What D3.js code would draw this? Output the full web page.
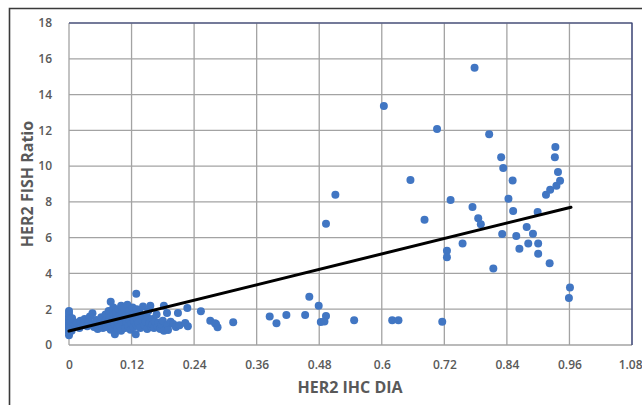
<!DOCTYPE html>
<html>
<head>
<meta charset="utf-8">
<script src="https://cdn.jsdelivr.net/npm/d3@7"></script>
<style>
  html, body { margin: 0; padding: 0; background: #fff; }
  svg { display: block; }
</style>
</head>
<body>
<svg id="chart" width="642" height="405"></svg>
<script>
// --- Data ---
const xTicks = [0, 0.12, 0.24, 0.36, 0.48, 0.6, 0.72, 0.84, 0.96, 1.08];
const yTicks = [0, 2, 4, 6, 8, 10, 12, 14, 16, 18];

// dense low cluster (IHC DIA, FISH ratio)
const lowCluster = [
  [0,0.55],[0,0.7],[0,0.85],[0,0.95],[0,1.05],[0,1.15],[0,1.25],[0,1.35],[0,1.45],[0,1.6],[0,1.75],[0,1.9],
  [0.003,1.0],[0.004,1.3],[0.005,0.8],[0.006,1.5],
  [0.012,1.1],[0.015,1.25],[0.02,0.95],[0.022,1.35],[0.028,1.15],[0.03,1.45],[0.035,1.05],[0.038,1.3],[0.04,1.6],
  [0.045,1.77],[0.048,1.0],[0.05,1.2],[0.052,1.4],[0.055,0.9],[0.058,1.1],[0.06,1.3],[0.062,1.55],[0.065,0.95],
  [0.068,1.15],[0.07,1.7],[0.07,1.35],
  [0.072,1.0],[0.075,1.2],[0.076,1.9],[0.078,1.5],[0.08,2.42],[0.08,0.85],[0.082,1.05],[0.083,1.3],[0.085,1.7],
  [0.085,2.1],[0.088,0.6],[0.088,1.15],[0.09,1.45],[0.09,1.85],[0.092,0.95],[0.094,1.25],[0.095,2.0],[0.096,1.6],
  [0.098,1.05],[0.1,1.4],[0.1,2.2],[0.1,0.8],
  [0.102,1.8],[0.104,1.15],[0.105,1.55],[0.106,2.05],[0.108,0.95],[0.11,1.3],[0.11,1.7],[0.112,2.25],[0.114,1.05],
  [0.115,1.45],[0.116,1.9],[0.118,0.85],[0.12,1.2],[0.12,1.6],[0.122,2.1],[0.124,1.0],[0.125,1.35],[0.126,1.75],
  [0.128,0.6],[0.129,2.87],[0.13,1.1],[0.13,1.5],[0.13,2.0],
  [0.133,1.25],[0.135,1.85],[0.137,0.95],[0.14,1.4],[0.14,1.65],[0.142,2.15],[0.145,1.1],[0.147,1.3],[0.15,1.55],
  [0.15,0.9],[0.152,1.9],[0.156,2.2],[0.155,1.2],[0.158,1.0],[0.16,1.45],[0.16,1.15],
  [0.163,0.95],[0.165,1.3],[0.168,1.7],[0.17,1.05],[0.172,1.25],[0.175,0.9],[0.178,1.15],[0.18,1.35],[0.182,2.2],
  [0.182,0.8],[0.188,1.79],[0.189,1.13],[0.19,0.84],[0.195,1.3],[0.2,1.17],[0.205,1.0],[0.209,1.79],[0.212,1.1],
  [0.223,1.23],[0.227,2.07],[0.228,1.05],[0.253,1.88],[0.271,1.36],[0.28,1.21],[0.282,1.17],[0.285,0.99],[0.315,1.27]
];

// sparser points at higher IHC DIA
const spread = [
  [0.385,1.6],[0.398,1.21],[0.417,1.68],[0.453,1.68],[0.461,2.7],[0.479,2.2],[0.493,1.62],[0.483,1.29],[0.49,1.32],
  [0.493,6.78],[0.511,8.4],[0.547,1.38],[0.604,13.36],[0.62,1.38],[0.632,1.38],[0.655,9.22],[0.682,7.0],
  [0.706,12.07],[0.716,1.3],[0.725,5.27],[0.725,4.9],[0.732,8.1],[0.755,5.68],[0.774,7.71],[0.778,15.5],
  [0.785,7.08],[0.79,6.75],[0.806,11.78],[0.814,4.28],[0.829,10.49],[0.831,6.2],[0.833,9.89],[0.843,8.18],
  [0.851,9.2],[0.852,7.49],[0.858,6.09],[0.864,5.38],[0.878,6.6],[0.881,5.68],[0.89,6.22],[0.899,7.43],
  [0.9,5.68],[0.9,5.1],[0.915,8.4],[0.922,4.57],[0.923,8.68],[0.932,10.49],[0.933,11.07],[0.935,8.9],
  [0.938,9.67],[0.942,9.18],[0.959,2.63],[0.961,3.22]
];

// linear trend line end points
const trendX = [0, 0.963];
const trendY = [0.78, 7.7];

// --- Layout ---
const FONT = "'Open Sans', 'Liberation Sans', sans-serif";
const TEXT = "#595959";
const margin = { left: 69, top: 23, right: 632, bottom: 345 };

const svg = d3.select("#chart");

// outer chart frame (runs off the right/bottom of the picture)
svg.append("path")
  .attr("d", "M9.5,420 L9.5,8.5 L660,8.5")
  .attr("fill", "none")
  .attr("stroke", "#3a3a3a")
  .attr("stroke-width", 1.6);

const x = d3.scaleLinear().domain([0, 1.08]).range([margin.left, margin.right]);
const y = d3.scaleLinear().domain([0, 18]).range([margin.bottom, margin.top]);

// gridlines
const grid = svg.append("g").attr("class", "grid");
grid.selectAll("line.h").data(yTicks).join("line")
  .attr("class", "h")
  .attr("x1", margin.left).attr("x2", margin.right)
  .attr("y1", d => y(d)).attr("y2", d => y(d))
  .attr("stroke", "#a3a3a3").attr("stroke-width", 1.3);
grid.selectAll("line.v").data(xTicks).join("line")
  .attr("class", "v")
  .attr("x1", d => x(d)).attr("x2", d => x(d))
  .attr("y1", margin.top).attr("y2", margin.bottom)
  .attr("stroke", "#a3a3a3").attr("stroke-width", 1.3);

// navy top / right border of the plot area
svg.append("path")
  .attr("d", `M${margin.left},${margin.top} L${margin.right},${margin.top} L${margin.right},${margin.bottom}`)
  .attr("fill", "none")
  .attr("stroke", "#2f3b78")
  .attr("stroke-width", 1.2);

// axes (labels only)
const xAxis = svg.append("g")
  .attr("transform", `translate(0,${margin.bottom + 12})`)
  .call(d3.axisBottom(x).tickValues(xTicks).tickSize(0).tickFormat(d => d3.format("~g")(d)));
const yAxis = svg.append("g")
  .attr("transform", `translate(${margin.left - 14},0)`)
  .call(d3.axisLeft(y).tickValues(yTicks).tickSize(0));
[xAxis, yAxis].forEach(a => {
  a.select(".domain").remove();
  a.selectAll("text")
    .attr("fill", TEXT)
    .style("font-family", FONT)
    .style("font-size", "12px")
    .style("font-weight", "600");
});
// last x label sits right at the picture edge; keep it inside
xAxis.selectAll("text").filter(d => d === 1.08).attr("text-anchor", "end").attr("dx", 10);

// points
svg.append("g").selectAll("circle").data(lowCluster.concat(spread)).join("circle")
  .attr("cx", d => x(d[0]))
  .attr("cy", d => y(d[1]))
  .attr("r", 4)
  .attr("fill", "#4176c3");

// trend line
svg.append("line")
  .attr("x1", x(trendX[0])).attr("y1", y(trendY[0]))
  .attr("x2", x(trendX[1])).attr("y2", y(trendY[1]))
  .attr("stroke", "#000").attr("stroke-width", 3).attr("stroke-linecap", "round");

// axis titles
svg.append("text")
  .attr("x", 350).attr("y", 393)
  .attr("text-anchor", "middle")
  .attr("fill", TEXT)
  .style("font-family", FONT).style("font-size", "16px").style("font-weight", "700")
  .text("HER2 IHC DIA");
svg.append("text")
  .attr("transform", "translate(33,184) rotate(-90)")
  .attr("text-anchor", "middle")
  .attr("fill", TEXT)
  .style("font-family", FONT).style("font-size", "16px").style("font-weight", "700")
  .text("HER2 FISH Ratio");
</script>
</body>
</html>
